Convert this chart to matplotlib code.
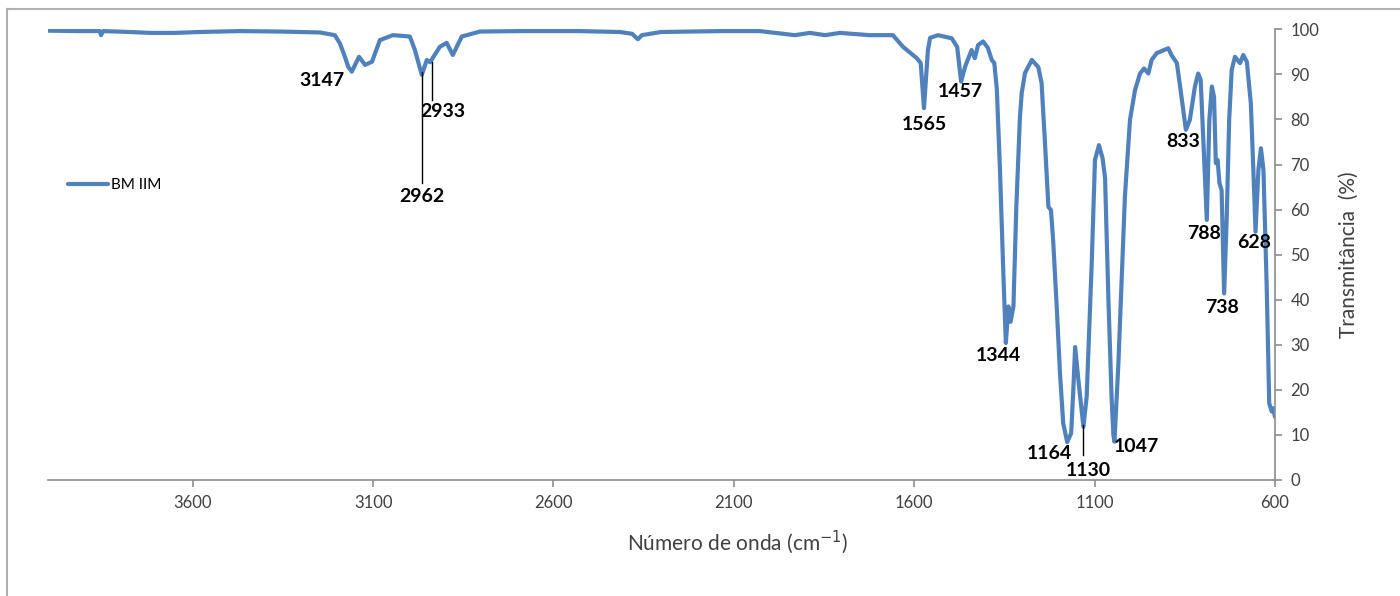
import matplotlib.pyplot as plt
from matplotlib.lines import Line2D

# espectro (numero de onda cm-1, transmitancia %)
wavenumber = [4001, 3913, 3857, 3854, 3848, 3774, 3718, 3649, 3580, 3469,
              3358, 3247, 3206, 3192, 3178, 3169, 3159, 3139, 3122, 3103,
              3081, 3045, 2998, 2984, 2965, 2951, 2942, 2915, 2896, 2879,
              2854, 2804, 2693, 2527, 2416, 2382, 2366, 2355, 2302, 2138,
              2028, 1931, 1889, 1847, 1806, 1723, 1695, 1659, 1631, 1593,
              1582, 1573, 1562, 1556, 1534, 1496, 1481, 1470, 1459, 1441,
              1432, 1423, 1409, 1396, 1385, 1378, 1371, 1362, 1353, 1346,
              1339, 1333, 1325, 1317, 1307, 1302, 1293, 1274, 1256, 1247,
              1238, 1228, 1221, 1215, 1205, 1196, 1187, 1176, 1165, 1159,
              1154, 1145, 1131, 1122, 1108, 1099, 1088, 1078, 1071, 1062,
              1053, 1048, 1045, 1041, 1034, 1025, 1016, 1002, 988, 974,
              963, 951, 942, 928, 896, 887, 872, 863, 847, 836,
              822, 813, 806, 797, 789, 782, 775, 769, 764, 759,
              754, 748, 741, 734, 727, 720, 711, 697, 688, 678,
              667, 660, 654, 646, 639, 632, 623, 616, 609, 605,
              600]
transmittance = [99.7, 99.6, 99.6, 98.7, 99.6, 99.4, 99.2, 99.2, 99.4, 99.6,
                 99.5, 99.3, 98.7, 96.9, 93.9, 91.7, 90.6, 93.9, 92.1, 92.8,
                 97.6, 98.7, 98.4, 95.4, 89.9, 93.2, 92.7, 96.1, 97.0, 94.3,
                 98.4, 99.5, 99.6, 99.6, 99.4, 99.0, 97.8, 98.7, 99.4, 99.6,
                 99.6, 98.7, 99.2, 98.7, 99.2, 98.7, 98.7, 98.7, 96.1, 93.6,
                 92.5, 82.5, 95.4, 98.1, 98.7, 98.0, 96.1, 88.4, 91.7, 95.4,
                 93.6, 96.5, 97.3, 95.9, 93.2, 92.5, 86.7, 68.1, 45.9, 30.4,
                 38.5, 35.1, 38.5, 60.6, 80.5, 85.9, 90.3, 93.2, 91.6, 88.1,
                 75.4, 60.6, 59.9, 53.3, 38.4, 23.7, 12.6, 8.4, 10.4, 20.0,
                 29.5, 22.2, 11.8, 18.5, 48.1, 71.0, 74.3, 71.4, 67.0, 40.7,
                 18.5, 10.0, 8.5, 14.9, 26.0, 44.4, 62.9, 79.9, 86.5, 90.2,
                 91.3, 90.2, 93.2, 94.7, 95.8, 94.3, 92.5, 87.3, 77.7, 79.9,
                 87.3, 90.2, 88.8, 72.6, 57.7, 79.9, 87.3, 85.0, 70.3, 71.0,
                 65.9, 64.3, 41.4, 57.7, 79.9, 91.0, 93.9, 92.5, 94.3, 92.8,
                 83.6, 68.8, 55.1, 68.8, 73.6, 68.8, 42.9, 17.0, 15.2, 15.9,
                 14.0]

# rotulos dos picos
peak_labels = ['3147', '2933', '2962', '1565', '1457', '1344', '1164', '1130', '1047',
               '833', '788', '738', '628']
label_x = [3242, 2906, 2965, 1573, 1473, 1368, 1224, 1118, 983, 855, 797, 747, 658]
label_y = [88.7, 81.7, 63.0, 78.8, 86.1, 27.7, 5.8, 2.2, 7.5, 75.0, 54.8, 38.2, 52.6]

# linhas de chamada (x, y inicio, y fim)
leader_x = [2965, 2937, 1132]
leader_y0 = [90.5, 92.7, 12.2]
leader_y1 = [65.9, 84.3, 5.5]

fig = plt.figure(figsize=(14, 5.96), dpi=100)
ax = fig.add_axes([48 / 1400, 1 - 480 / 596, (1275 - 48) / 1400, (480 - 29.3) / 596])

ax.plot(wavenumber, transmittance, color='#4f81bd', linewidth=3, label='BM IIM',
        solid_joinstyle='round', solid_capstyle='round')

for txt, x, y in zip(peak_labels, label_x, label_y):
    ax.text(x, y, txt, ha='center', va='center', fontsize=14, fontweight='bold',
            family='Lato', color='black')
for x, y0, y1 in zip(leader_x, leader_y0, leader_y1):
    ax.plot([x, x], [y0, y1], color='black', linewidth=1)

ax.set_xlim(4001, 600)
ax.set_ylim(0, 100)
ax.set_xticks([3600, 3100, 2600, 2100, 1600, 1100, 600])
ax.set_yticks(range(0, 101, 10))
ax.yaxis.tick_right()
ax.yaxis.set_label_position('right')

for s in ['top', 'left']:
    ax.spines[s].set_visible(False)
ax.spines['bottom'].set_color('#8c8c8c')
ax.spines['right'].set_color('#8c8c8c')
ax.spines['bottom'].set_linewidth(1.2)
ax.spines['right'].set_linewidth(1.2)
ax.tick_params(axis='both', colors='#8c8c8c', length=5, width=1.2, labelsize=12,
               labelcolor='#404040')
ax.tick_params(axis='y', pad=6)
ax.tick_params(axis='x', pad=6)
for lab in ax.get_xticklabels() + ax.get_yticklabels():
    lab.set_family('Lato')

ax.set_xlabel('Número de onda (cm$^{-1}$)', fontsize=15, family='Lato', color='#404040')
ax.xaxis.set_label_coords(0.562, -0.108)
ax.set_ylabel('Transmitância  (%)', fontsize=15, family='Lato', color='#404040',
              labelpad=14)

leg = ax.legend(loc='upper left', bbox_to_anchor=(0.005, 0.70), frameon=False,
                prop={'family': 'Lato', 'size': 11}, handlelength=2.6,
                handletextpad=0.2)

# borda cinza do quadro
fig.add_artist(Line2D([7 / 1400, 1], [1 - 9 / 596, 1 - 9 / 596], color='#b0b0b0', linewidth=1.5))
fig.add_artist(Line2D([7 / 1400, 7 / 1400], [0, 1 - 9 / 596], color='#b0b0b0', linewidth=1.5))

fig.savefig('out.png', dpi=100)
